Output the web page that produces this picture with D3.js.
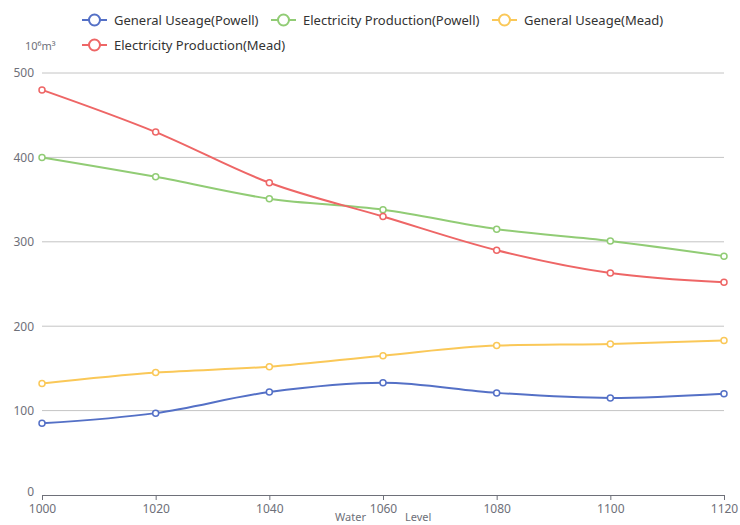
<!DOCTYPE html>
<meta charset="utf-8">
<script src="https://d3js.org/d3.v7.min.js"></script>
<style>
  body { margin: 0; background: #fff; }
  text { font-family: 'Noto Sans', 'Open Sans', sans-serif; }
</style>
<body>
<div id="chart"></div>
<script>

var levels = [1000, 1020, 1040, 1060, 1080, 1100, 1120];
var yTicks = [0, 100, 200, 300, 400, 500];
var seriesNames = ["General Useage(Powell)", "Electricity Production(Powell)", "General Useage(Mead)", "Electricity Production(Mead)"];
var usePowell = [85, 97, 122, 133, 121, 115, 120];
var elecPowell = [400, 377, 351, 338, 315, 301, 283];
var useMead = [132, 145, 152, 165, 177, 179, 183];
var elecMead = [480, 430, 370, 330, 290, 263, 252];
var colors = ["#5470c6", "#91cc75", "#fac858", "#ee6666"];

var allSeries = [usePowell, elecPowell, useMead, elecMead];

var width = 740, height = 525;
var svg = d3.select("#chart").append("svg")
  .attr("width", width)
  .attr("height", height);

var x = d3.scaleLinear().domain([1000, 1120]).range([42, 724]);
var y = d3.scaleLinear().domain([0, 500]).range([495, 73]);

// grid
svg.append("g").selectAll("line")
  .data(yTicks.filter(function(d) { return d > 0; }))
  .enter().append("line")
    .attr("x1", x(1000)).attr("x2", x(1120))
    .attr("y1", function(d) { return y(d); })
    .attr("y2", function(d) { return y(d); })
    .attr("stroke", "#c4c4c4")
    .attr("stroke-width", 1);

// Y axis labels
var yAxis = svg.append("g")
  .attr("transform", "translate(" + x(1000) + ",0)")
  .call(d3.axisLeft(y).tickValues(yTicks).tickSize(0).tickPadding(8));
yAxis.select(".domain").remove();
yAxis.selectAll("text").attr("fill", "#6e7079").style("font-size", "12px");
// lift the "0" a little so it clears the first x label
yAxis.selectAll("text").filter(function(d) { return d === 0; }).attr("y", -3);

// X axis
var xAxis = svg.append("g")
  .attr("transform", "translate(0," + y(0) + ")")
  .call(d3.axisBottom(x).tickValues(levels).tickFormat(d3.format("d")).tickSizeOuter(0).tickSize(5).tickPadding(4));
xAxis.select(".domain").attr("stroke", "#6e7079");
xAxis.selectAll(".tick line").attr("stroke", "#6e7079");
xAxis.selectAll("text").attr("fill", "#6e7079").style("font-size", "12px");

// axis names
svg.append("text")
  .attr("x", 25).attr("y", 50)
  .attr("fill", "#6e7079")
  .style("font-size", "11px")
  .text("10⁶m³");

svg.append("text")
  .attr("x", 366).attr("y", 521)
  .attr("text-anchor", "end")
  .attr("fill", "#6e7079")
  .style("font-size", "11px")
  .text("Water");
svg.append("text")
  .attr("x", 405).attr("y", 521)
  .attr("fill", "#6e7079")
  .style("font-size", "11px")
  .text("Level");

// lines
var line = d3.line()
  .x(function(d, i) { return x(levels[i]); })
  .y(function(d) { return y(d); })
  .curve(d3.curveMonotoneX);

allSeries.forEach(function(s, k) {
  svg.append("path")
    .datum(s)
    .attr("d", line)
    .attr("fill", "none")
    .attr("stroke", colors[k])
    .attr("stroke-width", 2);
  svg.append("g").selectAll("circle")
    .data(s)
    .enter().append("circle")
      .attr("cx", function(d, i) { return x(levels[i]); })
      .attr("cy", function(d) { return y(d); })
      .attr("r", 3)
      .attr("fill", "#fff")
      .attr("stroke", colors[k])
      .attr("stroke-width", 1.5);
});

// legend
var legendPos = [[82, 20], [271, 20], [492, 20], [82, 45]];
seriesNames.forEach(function(name, k) {
  var g = svg.append("g").attr("transform", "translate(" + legendPos[k][0] + "," + legendPos[k][1] + ")");
  g.append("line").attr("x1", 0).attr("x2", 25).attr("y1", 0).attr("y2", 0)
    .attr("stroke", colors[k]).attr("stroke-width", 2);
  g.append("circle").attr("cx", 12.5).attr("cy", 0).attr("r", 5.5)
    .attr("fill", "#fff").attr("stroke", colors[k]).attr("stroke-width", 2);
  g.append("text").attr("x", 32).attr("y", 0).attr("dy", "0.35em")
    .attr("fill", "#333")
    .style("font-size", "13px")
    .text(name);
});

</script>
</body>
